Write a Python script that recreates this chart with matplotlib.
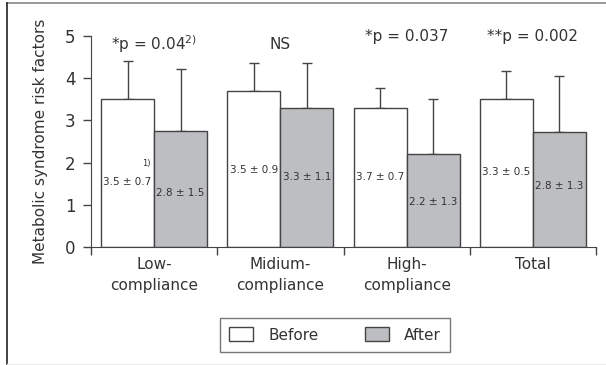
import matplotlib
matplotlib.use("Agg")
import matplotlib.pyplot as plt
from matplotlib.patches import Patch
from matplotlib.lines import Line2D
import numpy as np

plt.rcParams["font.family"] = ["DejaVu Sans"]
plt.rcParams["mathtext.fontset"] = "dejavusans"

categories = ["Low-\ncompliance", "Midium-\ncompliance", "High-\ncompliance", "Total"]
before_vals = [3.5, 3.69, 3.29, 3.5]
after_vals = [2.76, 3.29, 2.2, 2.73]
before_err = [0.91, 0.68, 0.48, 0.67]
after_err = [1.46, 1.06, 1.3, 1.33]
before_labels = ["3.5 ± 0.7", "3.5 ± 0.9", "3.7 ± 0.7", "3.3 ± 0.5"]
after_labels = ["2.8 ± 1.5", "3.3 ± 1.1", "2.2 ± 1.3", "2.8 ± 1.3"]
before_label_y = [1.55, 1.83, 1.66, 1.78]
after_label_y = [1.28, 1.66, 1.07, 1.44]
p_labels = ["*p = 0.04$^{2)}$", "NS", "*p = 0.037", "**p = 0.002"]
p_label_y = [4.8, 4.8, 4.98, 4.98]

edge = "#444444"
txt = "#333333"
gray = "#bdbec1"

fig = plt.figure(figsize=(6.06, 3.65), dpi=100)
ax = fig.add_axes([91 / 606, 1 - 247 / 365, 505 / 606, 211 / 365])

x = np.arange(len(categories))
w = 0.42
ax.bar(x - w / 2, before_vals, w, color="white", edgecolor=edge, linewidth=1.0, zorder=2)
ax.bar(x + w / 2, after_vals, w, color=gray, edgecolor=edge, linewidth=1.0, zorder=2)
ax.errorbar(x - w / 2, before_vals, yerr=[np.zeros(4), before_err], fmt="none",
            ecolor=edge, elinewidth=1.0, capsize=3.5, capthick=1.0, zorder=1)
ax.errorbar(x + w / 2, after_vals, yerr=[np.zeros(4), after_err], fmt="none",
            ecolor=edge, elinewidth=1.0, capsize=3.5, capthick=1.0, zorder=1)

for i in range(len(categories)):
    ax.text(x[i] - w / 2, before_label_y[i], before_labels[i], ha="center", va="center",
            fontsize=7.5, color=txt, zorder=3)
    ax.text(x[i] + w / 2, after_label_y[i], after_labels[i], ha="center", va="center",
            fontsize=7.5, color=txt, zorder=3)
    ax.text(x[i], p_label_y[i], p_labels[i], ha="center", va="center",
            fontsize=11, color=txt)
ax.text(x[0] - 0.06, 1.98, "1)", ha="center", va="center", fontsize=6, color=txt)

ax.set_xlim(-0.5, 3.5)
ax.set_ylim(0, 5)
ax.set_yticks(range(6))
ax.set_xticks(np.arange(-0.5, 4, 1))
ax.set_xticklabels([])
ax.set_xticks(x, minor=True)
ax.set_xticklabels(categories, minor=True, fontsize=11, color=txt, linespacing=1.55)
ax.tick_params(axis="x", which="major", direction="out", length=6, width=1, color=edge)
ax.tick_params(axis="x", which="minor", length=0, pad=7)
ax.tick_params(axis="y", direction="out", length=6, width=1, color=edge,
               labelsize=12, labelcolor=txt, pad=5)
for s in ["top", "right"]:
    ax.spines[s].set_visible(False)
for s in ["left", "bottom"]:
    ax.spines[s].set_color(edge)
ax.set_ylabel("Metabolic syndrome risk factors", fontsize=11, color=txt, labelpad=12)

handles = [Patch(facecolor="white", edgecolor=edge, linewidth=1.0, label="Before"),
           Patch(facecolor=gray, edgecolor=edge, linewidth=1.0, label="After")]
leg = fig.legend(handles=handles, loc="center", bbox_to_anchor=(335 / 606, 1 - 335 / 365),
                 ncol=2, frameon=True, fancybox=False, fontsize=11, handlelength=1.6,
                 handleheight=1.0, columnspacing=3.0, handletextpad=1.0, borderpad=0.6,
                 labelcolor=txt)
leg.get_frame().set_edgecolor("#555555")
leg.get_frame().set_linewidth(1.0)

fig.add_artist(Line2D([7 / 606, 1], [1 - 3 / 365, 1 - 3 / 365], color="#888888", lw=1.2))
fig.add_artist(Line2D([7 / 606, 7 / 606], [0, 1 - 3 / 365], color="#222222", lw=1.2))
fig.add_artist(Line2D([7 / 606, 1], [1 / 365, 1 / 365], color="#eeeeee", lw=1.0))

fig.savefig("out.png", dpi=100)
